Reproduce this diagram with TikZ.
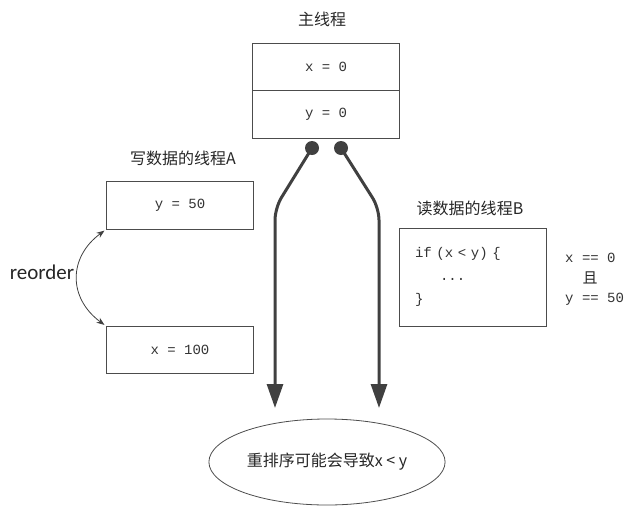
\documentclass[tikz,border=0pt]{standalone}
\usepackage{fontspec}
\setmonofont{Liberation Mono}
\newfontfamily\cjk{Noto Sans CJK SC}
\newfontfamily\lat{Carlito}
\usetikzlibrary{arrows.meta,shapes.geometric}

\begin{document}
\begin{tikzpicture}[x=1pt,y=-1pt,
  cell/.style={draw=black!70,line width=0.8pt,minimum width=147pt,minimum height=48pt,inner sep=0pt,font=\ttfamily\fontsize{14}{16}\selectfont,text=black!80},
  title/.style={font=\cjk\fontsize{16}{18}\selectfont,text=black!85},
  mono/.style={font=\ttfamily\fontsize{14}{16}\selectfont,text=black!80,inner sep=0pt},
  flow/.style={line width=3pt,draw=black!75,rounded corners=12pt,-{Triangle[width=16pt,length=24pt]}},
  dot/.style={fill=black!75}]
\useasboundingbox (0,0) rectangle (642,517);
% main thread
\node[title] (tmain) at (322,19) {主线程};
\node[cell,minimum height=47pt] (mx) at (326,67) {x = 0};
\node[cell] (my) at (326,114) {y = 0};
% writer thread A
\node[title] (ta) at (183,158) {写数据的线程A};
\node[cell] (ay) at (180,205) {y = 50};
\node[cell,minimum height=47pt] (ax) at (180,350) {x = 100};
\node[font=\lat\fontsize{21}{24}\selectfont,text=black!85] (ro) at (42,272) {reorder};
\draw[black!75,line width=0.8pt,{Stealth[length=8pt,width=6pt]}-{Stealth[length=8pt,width=6pt]},shorten <=2pt,shorten >=2pt]
  (ay.south west) .. controls +(-38,28) and +(-38,-28) .. (ax.north west);
% reader thread B
\node[title] (tb) at (470,208) {读数据的线程B};
\node[cell,minimum height=98pt,text width=116pt,inner xsep=15pt,align=left,font=\ttfamily\fontsize{14}{23}\selectfont] (bc) at (473,277)
  {if (x < y) \{\\\hspace*{25pt}...\\\}};
\node[mono,anchor=west] (c1) at (565,258) {x == 0};
\node[font=\cjk\fontsize{15}{18}\selectfont,text=black!85,inner sep=0pt] (c2) at (590,278) {且};
\node[mono,anchor=west] (c3) at (565,299) {y == 50};
% result
\node[draw=black!70,line width=0.8pt,ellipse,minimum width=211pt,minimum height=86pt,font=\cjk\fontsize{16}{18}\selectfont,text=black!85] (res) at (327,462) {重排序可能会导致x < y};
% flows
\coordinate (dl) at (312,148);
\coordinate (dr) at (341,148);
\coordinate (bl) at (275,208);
\coordinate (br) at (379,208);
\coordinate (el) at (275,408);
\coordinate (er) at (379,408);
\draw[flow] (dl) -- (bl) -- (el);
\draw[flow] (dr) -- (br) -- (er);
\fill[dot] (dl) circle (7pt);
\fill[dot] (dr) circle (7pt);
\end{tikzpicture}
\end{document}
